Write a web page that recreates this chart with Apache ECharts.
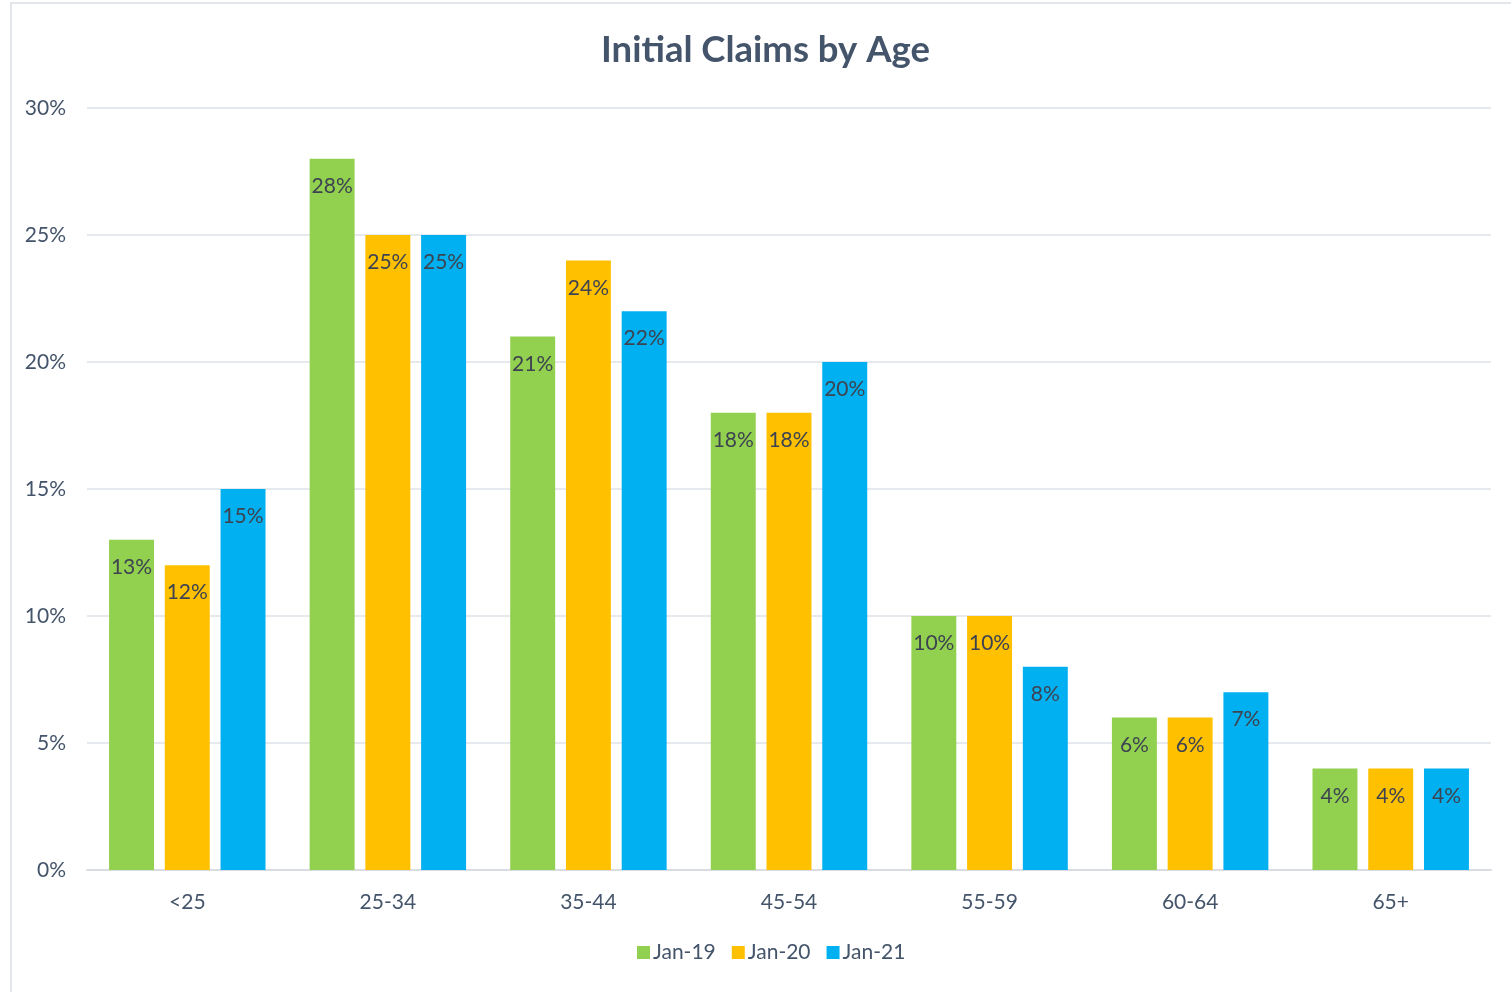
<!DOCTYPE html>
<html>
<head>
<meta charset="utf-8">
<script src="https://cdn.jsdelivr.net/npm/echarts@6/dist/echarts.min.js"></script>
<style>
  html, body { margin:0; padding:0; background:#fff; }
  #main { width:1511px; height:992px; }
</style>
</head>
<body>
<div id="main"></div>
<script>
var ageGroups = ['<25', '25-34', '35-44', '45-54', '55-59', '60-64', '65+'];
var jan19 = [13, 28, 21, 18, 10, 6, 4];
var jan20 = [12, 25, 24, 18, 10, 6, 4];
var jan21 = [15, 25, 22, 20, 8, 7, 4];
var seriesNames = ['Jan-19', 'Jan-20', 'Jan-21'];
var yTicks = [0, 5, 10, 15, 20, 25, 30];

var font = 'Lato, "Open Sans", sans-serif';
var textColor = '#44546a';

function makeSeries(name, data, color) {
    return {
        name: name,
        type: 'bar',
        data: data,
        barGap: '24%',
        barCategoryGap: '22%',
        itemStyle: { color: color },
        label: {
            show: true,
            position: 'insideTop',
            distance: 17,
            formatter: '{c}%',
            color: '#3d4350',
            fontSize: 21,
            fontFamily: font
        }
    };
}

var myChart = echarts.init(document.getElementById('main'));
var option = {
    animation: false,
    textStyle: { fontFamily: font },
    graphic: [{
        type: 'rect',
        shape: { x: 11, y: 3, width: 1600, height: 1100 },
        style: { fill: 'none', stroke: '#e3e7ec', lineWidth: 2 },
        silent: true
    }],
    title: {
        text: 'Initial Claims by Age',
        left: 596,
        top: 27,
        textStyle: { fontSize: 36.5, fontWeight: 'bold', color: textColor, fontFamily: font }
    },
    legend: {
        data: seriesNames,
        bottom: 24,
        left: 632,
        itemWidth: 13,
        itemHeight: 13,
        itemGap: 16,
        icon: 'rect',
        textStyle: { fontSize: 21, color: textColor, fontFamily: font, padding: [0, 0, 0, -2] }
    },
    grid: { left: 87, right: 20, top: 108, bottom: 122 },
    xAxis: {
        type: 'category',
        data: ageGroups,
        axisTick: { show: false },
        axisLine: { lineStyle: { color: '#d9dde3', width: 2 } },
        axisLabel: { fontSize: 21, color: textColor, margin: 22, fontFamily: font }
    },
    yAxis: {
        type: 'value',
        min: yTicks[0],
        max: yTicks[yTicks.length - 1],
        interval: 5,
        axisLabel: { formatter: '{value}%', fontSize: 21, color: textColor, margin: 21, fontFamily: font },
        splitLine: { lineStyle: { color: '#e6e9ee', width: 2 } },
        axisLine: { show: false },
        axisTick: { show: false }
    },
    series: [
        makeSeries(seriesNames[0], jan19, '#92d050'),
        makeSeries(seriesNames[1], jan20, '#ffc000'),
        makeSeries(seriesNames[2], jan21, '#00b0f0')
    ]
};
myChart.setOption(option);
</script>
</body>
</html>
